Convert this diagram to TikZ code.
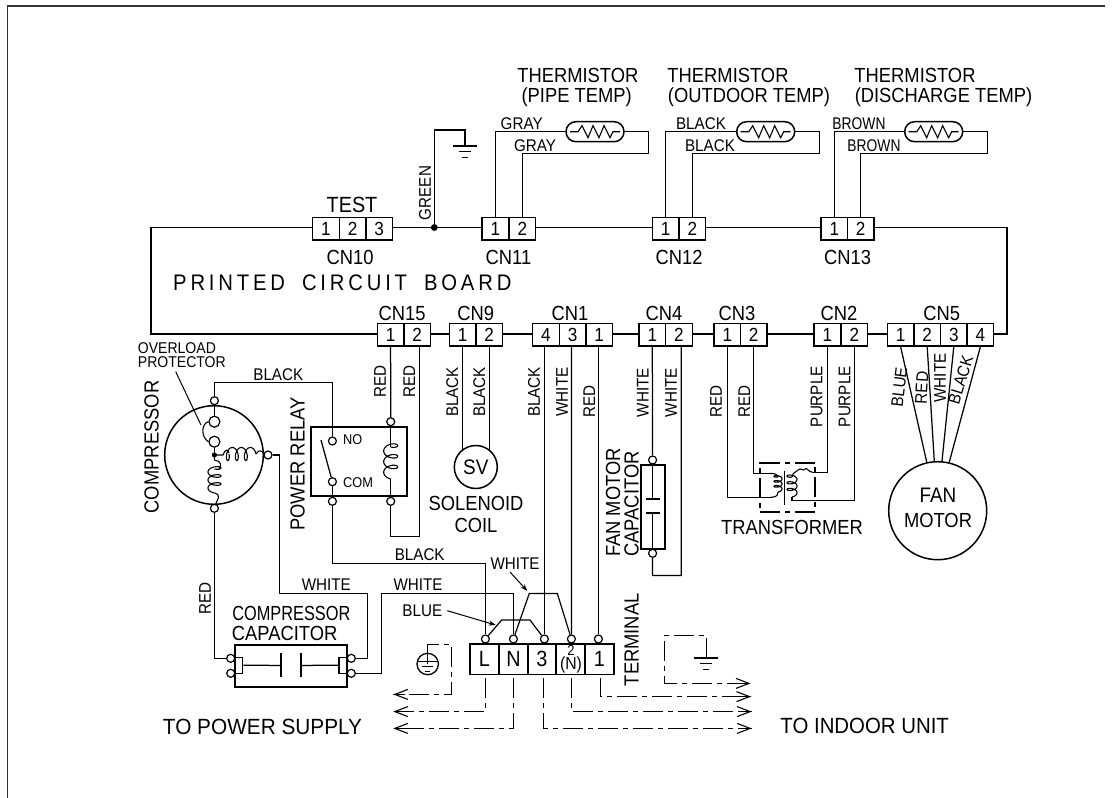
\documentclass[tikz,border=0pt]{standalone}
\usepackage{fontspec}
\setmainfont[FakeStretch=0.9]{Liberation Sans}
\usetikzlibrary{arrows.meta,calc}
\tikzset{
  wire/.style={line width=1.25pt,line join=miter},
  cellbox/.style={draw,line width=1.25pt,inner sep=0pt,minimum width=26.6pt,minimum height=22.7pt,font=\fontsize{19}{19}\selectfont},
  tbcell/.style={draw,line width=1.7pt,inner sep=0pt,minimum width=28.7pt,minimum height=30.3pt,font=\fontsize{22}{22}\selectfont},
  term/.style={circle,draw,fill=white,line width=1.2pt,inner sep=0pt,minimum size=8pt},
  txt/.style={inner sep=0pt,font=\fontsize{20.4}{21}\selectfont},
  wl/.style={inner sep=0pt,font=\fontsize{16.9}{17}\selectfont},
  big/.style={inner sep=0pt,font=\fontsize{22}{22}\selectfont},
  sx/.style={xscale=#1,transform shape},
  dd/.style={line width=1.25pt,dash pattern=on 20pt off 5pt on 5pt off 5pt},
  heavy/.style={line width=1.8pt},
  barb/.style={-{Straight Barb[length=13pt,width=10pt,line width=1.1pt]}},
  lead/.style={line width=1pt,-{Stealth[length=7pt,width=5pt]}},
  capsule/.style={draw,line width=1.5pt,rounded corners=9.9pt,minimum width=58pt,minimum height=20pt,inner sep=0pt}
}
% coil from y1 to y2 around cx, bulge a, total angle T (b = 0.38 of the pitch)
\newcommand\vcoil[5]{\draw[line width=1.1pt] plot[domain=0:#5,samples=120,smooth,variable=\t]({#1+#4*sin(\t)},{#2+(#3-#2)*(\t/#5)+(0.38*(#3-#2)*(360/#5))*(cos(\t)-1)});}
\newcommand\hcoil[5]{\draw[line width=1.1pt] plot[domain=0:#5,samples=120,smooth,variable=\t]({#2+(#3-#2)*(\t/#5)+(0.38*(#3-#2)*(360/#5))*(cos(\t)-1)},{#1+#4*sin(\t)});}
\newcommand\gndsym[2]{%
  \draw[line width=1.5pt] (#1-11.7,#2) -- (#1+11.7,#2);
  \draw[line width=1.5pt] (#1-6.2,#2+5.7) -- (#1+6.2,#2+5.7);
  \draw[line width=1.5pt] (#1-3,#2+11.3) -- (#1+3,#2+11.3);}
\newcommand\thermi[3]{%
  \node[capsule] (#1) at (#2,#3) {};
  \draw[line width=1.1pt] (#2-25,#3) -- (#2-17,#3) -- (#2-13,#3-6) -- (#2-7,#3+6) -- (#2-2,#3-6) -- (#2+4,#3+6) -- (#2+9,#3-6) -- (#2+15,#3+6) -- (#2+18,#3) -- (#2+25,#3);}
\begin{document}
\begin{tikzpicture}[x=1pt,y=-1pt]
\useasboundingbox (0,0) rectangle (1112,798);
% frame
\draw[line width=1.5pt,black!80] (7.5,798) -- (7.5,6) -- (1105,6);

% connector cells, top row
\foreach \n/\x/\t in {p1/326/1,p2/352.6/2,p3/379.2/3} \node[cellbox] (cn10\n) at (\x,228.7) {\t};
\foreach \n/\x/\t in {a/495.4/1,b/522.4/2} \node[cellbox] (cn11\n) at (\x,228.7) {\t};
\foreach \n/\x/\t in {a/665.7/1,b/692.3/2} \node[cellbox] (cn12\n) at (\x,228.7) {\t};
\foreach \n/\x/\t in {a/834.4/1,b/860.6/2} \node[cellbox] (cn13\n) at (\x,228.7) {\t};
% bottom row
\foreach \n/\x/\t in {a/390.6/1,b/417.2/2} \node[cellbox] (cn15\n) at (\x,334.7) {\t};
\foreach \n/\x/\t in {a/462.6/1,b/489.2/2} \node[cellbox] (cn9\n) at (\x,334.7) {\t};
\foreach \n/\x/\t in {a/546/4,b/572.6/3,c/599.2/1} \node[cellbox] (cn1\n) at (\x,334.7) {\t};
\foreach \n/\x/\t in {a/652.3/1,b/678.9/2} \node[cellbox] (cn4\n) at (\x,334.7) {\t};
\foreach \n/\x/\t in {a/727.4/1,b/753.6/2} \node[cellbox] (cn3\n) at (\x,334.7) {\t};
\foreach \n/\x/\t in {a/827.3/1,b/854.4/2} \node[cellbox] (cn2\n) at (\x,334.7) {\t};
\foreach \n/\x/\t in {a/900.6/1,b/927.2/2,c/953.8/3,d/980.4/4} \node[cellbox] (cn5\n) at (\x,334.7) {\t};

% board outline
\coordinate (bTL) at (151,227.5);
\coordinate (bBL) at (151,334);
\coordinate (bTR) at (1007,227.5);
\coordinate (bBR) at (1007,334);
\draw[heavy] (cn10p1.west |- bTL) -- (bTL) -- (bBL) -- (cn15a.west |- bBL);
\draw[wire] (cn15b.east |- bBL) -- (cn9a.west |- bBL);
\draw[wire] (cn9b.east |- bBL) -- (cn1a.west |- bBL);
\draw[wire] (cn1c.east |- bBL) -- (cn4a.west |- bBL);
\draw[wire] (cn4b.east |- bBL) -- (cn3a.west |- bBL);
\draw[wire] (cn3b.east |- bBL) -- (cn2a.west |- bBL);
\draw[wire] (cn2b.east |- bBL) -- (cn5a.west |- bBL);
\draw[wire] (cn5d.east |- bBL) -- (bBR) -- (bTR) -- (cn13b.east |- bTR);
\draw[wire] (cn10p3.east |- bTL) -- (cn11a.west |- bTL);
\draw[wire] (cn11b.east |- bTL) -- (cn12a.west |- bTL);
\draw[wire] (cn12b.east |- bTL) -- (cn13a.west |- bTL);

% labels on connectors
\node[big] (ltest) at (352,204.5) {TEST};
\node[txt] (l10) at (350,257.5) {CN10};
\node[txt] (l11) at (508.5,257.5) {CN11};
\node[txt] (l12) at (679,257.5) {CN12};
\node[txt] (l13) at (847.5,257.5) {CN13};
\node[txt] (l15) at (402,313.5) {CN15};
\node[txt] (l9) at (475.7,313.5) {CN9};
\node[txt] (l1) at (570,313.5) {CN1};
\node[txt] (l4) at (664,313.5) {CN4};
\node[txt] (l3) at (737,313.5) {CN3};
\node[txt] (l2) at (839,313.5) {CN2};
\node[txt] (l5) at (941.7,313.5) {CN5};
\node[inner sep=0pt,anchor=west,font=\fontsize{22.5}{22}\selectfont\addfontfeature{LetterSpace=17}] (pcb) at (173,282.5) {PRINTED\hspace{17pt}CIRCUIT\hspace{17pt}BOARD};

% green earth
\coordinate (gdot) at (434.3,227.5);
\fill (gdot) circle (3.4pt);
\coordinate (gtop) at (465,130);
\coordinate (gbar) at (465,146);
\draw[wire] (gdot) |- (gtop) -- (gbar);
\gndsym{465}{146}
\node[wl,rotate=90] (lgreen) at (425,193) {GREEN};

% thermistors
\thermi{th1}{595}{131.7}
\thermi{th2}{765.7}{131.7}
\thermi{th3}{933.7}{131.7}
\coordinate (r1) at (648.7,153.3);
\coordinate (r2) at (819.3,153.3);
\coordinate (r3) at (987.3,153.3);
\draw[wire] (cn11a.north) |- (th1.west);
\draw[wire] (th1.east) -| (r1) -| (cn11b.north);
\draw[wire] (cn12a.north) |- (th2.west);
\draw[wire] (th2.east) -| (r2) -| (cn12b.north);
\draw[wire] (cn13a.north) |- (th3.west);
\draw[wire] (th3.east) -| (r3) -| (cn13b.north);
\node[txt] (t1a) at (577.8,75) {THERMISTOR};
\node[txt] (t1b) at (576.7,97) {(PIPE TEMP)};
\node[txt] (t2a) at (728,75) {THERMISTOR};
\node[txt] (t2b) at (749,97) {(OUTDOOR TEMP)};
\node[txt] (t3a) at (915,75) {THERMISTOR};
\node[txt] (t3b) at (943.5,97) {(DISCHARGE TEMP)};
\node[wl] (w1) at (521.7,123.3) {GRAY};
\node[wl] (w2) at (535,145.7) {GRAY};
\node[wl] (w3) at (701,123.3) {BLACK};
\node[wl] (w4) at (710,145.7) {BLACK};
\node[wl,sx=.91] (w5) at (859,123.3) {BROWN};
\node[wl,sx=.91] (w6) at (874,145.7) {BROWN};

% power relay
\node[draw,heavy,minimum width=95.7pt,minimum height=69.3pt,inner sep=0pt] (relay) at (358.85,461.35) {};
\node[term] (rtop) at (390.7,421.7) {};
\node[term] (rbot) at (390.7,501.3) {};
\node[term] (rno) at (332.4,441) {};
\node[term] (rcom) at (332.4,481.7) {};
\node[term] (rlow) at (332.4,501.3) {};
\coordinate (rcoilA) at (390.7,447);
\coordinate (rcoilB) at (390.7,479);
\draw[wire] (cn15a.south) -- (rtop);
\draw[wire] (rtop) -- (rcoilA);
\vcoil{390.7}{447}{479}{7}{1080}
\draw[wire] (rcoilB) -- (rbot);
\coordinate (rb2) at (419.4,536.4);
\draw[wire] ([xshift=2.2pt]cn15b.south) -- (rb2) -| (rbot);
\coordinate (blade) at (321,440);
\draw[wire] (rcom) -- (blade);
\draw[wire] (rcom) -- (rlow);
\node[inner sep=0pt,font=\fontsize{14.2}{14}\selectfont] (lno) at (352.7,440) {NO};
\node[inner sep=0pt,font=\fontsize{14.2}{14}\selectfont] (lcom) at (358,483) {COM};
\node[txt,rotate=90] (lrelay) at (297.7,464) {POWER RELAY};
\node[wl,rotate=90] (lr1) at (380,381.7) {RED};
\node[wl,rotate=90] (lr2) at (409.3,381.7) {RED};

% compressor
\node[circle,draw,line width=1.5pt,minimum size=98.6pt,inner sep=0pt] (comp) at (214,455) {};
\node[term] (ctop) at (214.4,400.7) {};
\node[term] (cbot) at (214.4,508.3) {};
\node[term] (cright) at (268,455) {};
\coordinate (cc) at (214.4,455);
\node[circle,draw,line width=1.2pt,minimum size=11pt,inner sep=0pt] (ov1) at (214.4,421.7) {};
\node[circle,draw,line width=1.2pt,minimum size=11pt,inner sep=0pt] (ov2) at (214.4,441.7) {};
\draw[wire] (ctop) -- (ov1);
\draw[wire] (ov2) -- (cc);
\draw[line width=1.1pt] (ov1.west) .. controls (201,424) and (201,437) .. (ov2.west);
\fill (cc) circle (2.6pt);
\draw[line width=1.1pt] (cc) -- (223,455) .. controls (225,449) and (228,449) .. (229,453);
\hcoil{454}{229}{256}{6.5}{1080}
\draw[line width=1.1pt] (256,454) .. controls (259,449) and (261,451) .. (cright);
\draw[line width=1.1pt] (cc) -- (214.4,460) .. controls (221,461) and (222,465) .. (219,469);
\vcoil{214.5}{469}{493}{6.5}{1080}
\draw[line width=1.1pt] (214.5,493) .. controls (222,495) and (217,500) .. (cbot);
\coordinate (ntop) at (332.4,382.7);
\draw[wire] (rno) -- (ntop) -| (ctop);
\draw[line width=1pt] (175.7,371.7) -- (201,425);
\node[inner sep=0pt,anchor=west,font=\fontsize{15.6}{15.6}\selectfont] (lov1) at (137.7,348.3) {OVERLOAD};
\node[inner sep=0pt,anchor=west,font=\fontsize{15.6}{15.6}\selectfont] (lov2) at (137.7,362.3) {PROTECTOR};
\node[wl] (lbk1) at (278.3,374.3) {BLACK};
\node[txt,rotate=90] (lcomp) at (151.7,447) {COMPRESSOR};

% compressor capacitor
\node[draw,heavy,minimum width=111.7pt,minimum height=42pt,inner sep=0pt] (ccap) at (290.85,665.7) {};
\node[draw,line width=1.2pt,minimum width=7.7pt,minimum height=16pt,inner sep=0pt] (cl) at (238.85,665.3) {};
\node[draw,line width=1.2pt,minimum width=7.7pt,minimum height=16pt,inner sep=0pt] (cr) at (342.85,665.3) {};
\node[term] (ct1) at (230.7,658.3) {};
\node[term] (ct2) at (230.7,673.3) {};
\node[term] (ct3) at (351.3,658.3) {};
\node[term] (ct4) at (351.3,673.3) {};
\coordinate (pl1) at (281,665.4);
\coordinate (pl2) at (300.7,665.4);
\draw[wire] (cl.east) -- (pl1);
\draw[wire] (cr.west) -- (pl2);
\draw[heavy] (281,653.3) -- (281,677.3);
\draw[heavy] (300.7,653.3) -- (300.7,677.3);
\draw[wire] (cbot) -- (214.4,658.3) -- (ct1);
\coordinate (c1) at (279.4,593.4);
\coordinate (c2) at (367.6,593.4);
\coordinate (c3) at (367.6,658.3);
\draw[wire] (cright) -| (c1) -- (c2) -- (c3) -- (ct3);
\coordinate (c4) at (381.6,673.3);
\coordinate (c5) at (381.6,593.4);
\node[txt,sx=.89,anchor=center] (lcc1) at (291.3,613.5) {COMPRESSOR};
\node[txt,anchor=west] (lcc2) at (231.7,633.5) {CAPACITOR};
\node[wl,rotate=90] (lrd) at (205,598.3) {RED};
\node[wl] (lw1) at (326.3,584.3) {WHITE};
\node[wl] (lw2) at (418,584.3) {WHITE};
\node[wl] (lbk2) at (419.7,554.7) {BLACK};
\node[wl] (lbl) at (422.3,610.7) {BLUE};

% terminal board
\node[tbcell] (tL) at (484.4,659.2) {L};
\node[tbcell] (tN) at (513.4,659.2) {N};
\node[tbcell] (t3) at (541.8,659.2) {3};
\node[tbcell] (t2) at (570.6,659.2) {};
\node[tbcell] (t1) at (599.4,659.2) {1};
\node[inner sep=0pt,align=center,font=\fontsize{17.5}{14}\selectfont] (t2t) at (571,659) {{\fontsize{14.5}{13}\selectfont 2}\\(N)};
\node[term] (oL) at (485.4,639) {};
\node[term] (oN) at (513.4,639) {};
\node[term] (o3) at (544.4,639) {};
\node[term] (o2) at (571.4,639) {};
\node[term] (o1) at (598.4,639) {};
\draw[wire] (rlow) |- (485.4,563.4) -- (oL);
\draw[wire] (ct4) -- (c4) -- (c5) -| (oN);
\draw[wire] ([xshift=-1.6pt]cn1a.south) -- (o3);
\draw[wire] ([xshift=-1.2pt]cn1b.south) -- (o2);
\draw[wire] ([xshift=-0.8pt]cn1c.south) -- (o1);
\draw[line width=1.2pt] (oL) -- (501.7,620) -- (530,620) -- (o3);
\draw[line width=1.2pt] (oN) -- (529.3,593.4) -- (557.3,593.4) -- (o2);
\coordinate (ablue) at (447.3,610.7);
\coordinate (ablueT) at (495.7,625);
\draw[lead] (ablue) -- (ablueT);
\coordinate (awhite) at (510,572);
\coordinate (awhiteT) at (527.3,591);
\draw[lead] (awhite) -- (awhiteT);
\node[wl] (lw3) at (515,564) {WHITE};
\node[txt,rotate=90] (lterm) at (631.7,639.7) {TERMINAL};

% earth terminal and supply lines
\node[circle,draw,line width=1.3pt,minimum size=21.4pt,inner sep=0pt] (pe) at (427.7,664) {};
\draw[line width=1.2pt] (pe.center) -- (pe.north);
\draw[line width=1.2pt] (418,661.7) -- (437.4,661.7);
\draw[line width=1.2pt] (422.3,666.7) -- (433,666.7);
\draw[line width=1.2pt] (425.3,671.7) -- (430.1,671.7);
\coordinate (a0) at (427.7,644.4);
\coordinate (a1) at (451.7,644.4);
\coordinate (a2) at (451.7,694.4);
\coordinate (a3) at (393.3,694.4);
\coordinate (a4) at (393.3,711.6);
\coordinate (a5) at (393.3,728.4);
\draw[dd] (pe.north) -- (a0) -- (a1) -- (a2) -- (a3);
\draw[barb,line width=1.1pt] ([xshift=12pt]a3) -- (a3);
\draw[dd,shorten <=3pt] ([xshift=.8pt]tL.south) |- (a4);
\draw[barb,line width=1.1pt] ([xshift=12pt]a4) -- (a4);
\draw[dd,shorten <=3pt] (tN.south) |- (a5);
\draw[barb,line width=1.1pt] ([xshift=12pt]a5) -- (a5);
\coordinate (b3) at (751.7,728.4);
\coordinate (b2) at (751.7,711.6);
\coordinate (b1) at (751,696.6);
\coordinate (b0) at (750.5,683.4);
\draw[dd,shorten <=3pt] ([xshift=1.6pt]t3.south) |- (b3);
\draw[barb,line width=1.1pt] ([xshift=-12pt]b3) -- (b3);
\draw[dd,shorten <=3pt] ([xshift=1pt]t2.south) |- (b2);
\draw[barb,line width=1.1pt] ([xshift=-12pt]b2) -- (b2);
\draw[dd,shorten <=3pt] ([xshift=1pt]t1.south) |- (b1);
\draw[barb,line width=1.1pt] ([xshift=-12pt]b1) -- (b1);
\coordinate (g0) at (664.4,635.4);
\coordinate (g1) at (706.6,635.4);
\coordinate (g2) at (706.6,658);
\coordinate (g3) at (664.4,683.4);
\draw[dd] (g2) -- (g1) -- (g0) -- (g3) -- (b0);
\draw[barb,line width=1.1pt] ([xshift=-12pt]b0) -- (b0);
\gndsym{706}{658}
\node[big,sx=1.05,anchor=center] (ltops) at (262.5,726.5) {TO POWER SUPPLY};
\node[big,sx=1.03,anchor=center] (ltoin) at (864.7,726) {TO INDOOR UNIT};

% solenoid coil
\node[circle,draw,line width=1.5pt,minimum size=43pt,inner sep=0pt,font=\fontsize{21}{21}\selectfont] (sv) at (475.8,467) {SV};
\draw[wire] (cn9a.south) -- (462.6,450.4);
\draw[wire] (cn9b.south) -- (489.2,450.4);
\node[wl,rotate=90] (lb3) at (452.3,392) {BLACK};
\node[wl,rotate=90] (lb4) at (479.3,392) {BLACK};
\node[txt] (lsol) at (476,503) {SOLENOID};
\node[txt] (lcoil) at (476,525.5) {COIL};
\node[wl,rotate=90] (lb5) at (534,392) {BLACK};
\node[wl,rotate=90] (lw5) at (562,392) {WHITE};
\node[wl,rotate=90] (lr5) at (589.3,401.7) {RED};

% fan motor capacitor
\node[draw,heavy,minimum width=24.6pt,minimum height=84.6pt,inner sep=0pt] (fcap) at (653,507) {};
\node[term] (ft) at (652.6,460) {};
\node[term] (fb) at (652.6,553.3) {};
\coordinate (fp1) at (652.6,498.7);
\coordinate (fp2) at (652.6,513.3);
\draw[wire] (cn4a.south) -- (ft);
\draw[wire] (ft) -- (fp1);
\draw[wire] (fp2) -- (fb);
\draw[heavy] (646,498.7) -- (660,498.7);
\draw[heavy] (646,513.3) -- (660,513.3);
\coordinate (f1) at (652.6,575.6);
\coordinate (f2) at (681.3,575.6);
\draw[wire] (fb) -- (f1) -- (f2) -- ([xshift=2.4pt]cn4b.south);
\node[wl,rotate=90] (lw6) at (642.7,392.5) {WHITE};
\node[wl,rotate=90] (lw7) at (671,392.5) {WHITE};
\node[txt,rotate=90,anchor=west] (lf1) at (613,557) {FAN MOTOR};
\node[txt,rotate=90,anchor=west] (lf2) at (631.5,557) {CAPACITOR};

% transformer
\node[draw,dd,line width=1.8pt,minimum width=55pt,minimum height=49.6pt,inner sep=0pt] (trf) at (787.5,487.5) {};
\coordinate (tcA) at (784.3,470.7);
\coordinate (tcB) at (784.3,505);
\draw[line width=1.6pt] (tcA) -- (tcB);
\draw[wire] (cn3b.south) |- (770,473.4);
\draw[line width=1.1pt] (770,473.4) .. controls (776,473.4) and (778,475) .. (778,477);
\vcoil{778}{477}{492}{-4}{1080}
\draw[line width=1.1pt] (778,492) .. controls (778,496) and (775,497.4) .. (770,497.4);
\draw[wire] (cn3a.south) |- (770,497.4);
\vcoil{792}{477}{497}{-5}{1080}
\coordinate (ts1) at (813,472.4);
\draw[wire] (cn2a.south) |- (ts1);
\draw[line width=1.1pt] (ts1) .. controls (808,472) and (807,467) .. (805,469) .. controls (803,472) and (801,467) .. (798,470) .. controls (795,473) and (793,472) .. (792,477);
\draw[wire] (792,497) |- (820,500.4) -| (cn2b.south);
\node[wl,rotate=90] (lr7) at (716,401.7) {RED};
\node[wl,rotate=90] (lr8) at (744.3,401.7) {RED};
\node[wl,rotate=90] (lp1) at (816.7,396.7) {PURPLE};
\node[wl,rotate=90] (lp2) at (844.7,396.7) {PURPLE};
\node[txt] (ltr) at (792,527.3) {TRANSFORMER};

% fan motor
\node[circle,draw,line width=1.5pt,minimum size=98pt,inner sep=0pt] (fan) at (937.7,510.7) {};
\node[txt,font=\fontsize{21}{21}\selectfont] (lfan) at (938,495.3) {FAN};
\node[txt] (lmot) at (938,520.7) {MOTOR};
\draw[wire] (cn5a.south) -- (926.7,462);
\draw[wire] (cn5b.south) -- (934.3,461);
\draw[wire] (cn5c.south) -- (942,461);
\draw[wire] (cn5d.south) -- (949.3,462);
\node[wl,rotate=83] (lf5a) at (899.3,387) {BLUE};
\node[wl,rotate=87] (lf5b) at (921.7,387.7) {RED};
\node[wl,rotate=90] (lf5c) at (940,378) {WHITE};
\node[wl,rotate=73] (lf5d) at (960.7,380) {BLACK};
\end{tikzpicture}
\end{document}
